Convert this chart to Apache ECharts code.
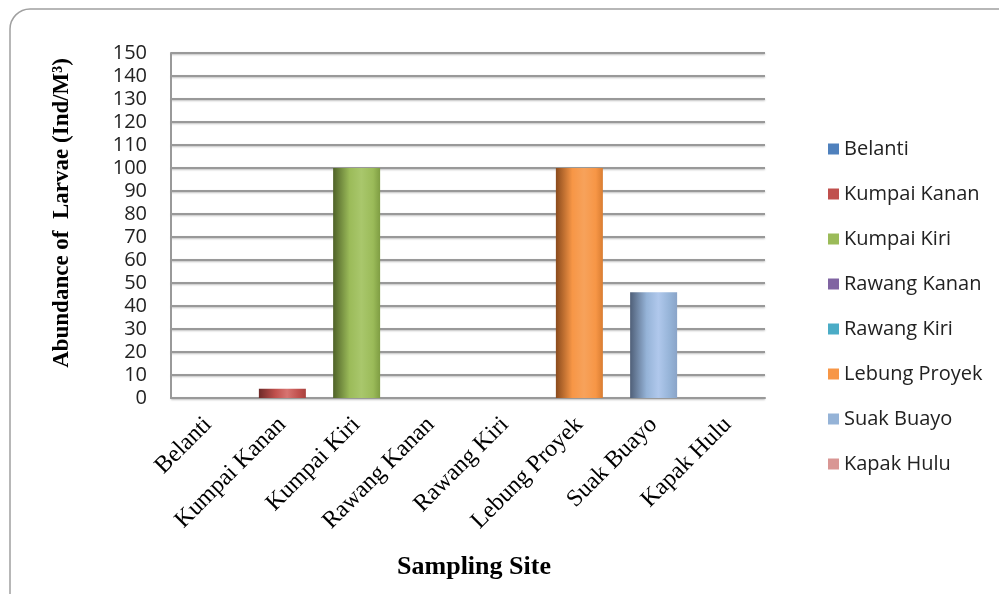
<!DOCTYPE html>
<html>
<head>
<meta charset="utf-8">
<script src="https://cdn.jsdelivr.net/npm/echarts@6/dist/echarts.min.js"></script>
<style>
  html, body { margin: 0; padding: 0; background: #fff; }
  #chart { width: 999px; height: 594px; }
</style>
</head>
<body>
<div id="chart"></div>
<script>
// Larval abundance per sampling site
const sites = ['Belanti', 'Kumpai Kanan', 'Kumpai Kiri', 'Rawang Kanan', 'Rawang Kiri', 'Lebung Proyek', 'Suak Buayo', 'Kapak Hulu'];
const abundance = [0, 4, 100, 0, 0, 100, 46, 0];
const yTicks = [0, 10, 20, 30, 40, 50, 60, 70, 80, 90, 100, 110, 120, 130, 140, 150];
const yTitle = 'Abundance of  Larvae (Ind/M³)';
const xTitle = 'Sampling Site';

// Base colour plus shades for the cylinder-like shading of each bar
const palette = [
  { base: '#4F81BD', dark: '#2c4a6e', light: '#7fa3d3', edge: '#4671a6' },
  { base: '#C0504D', dark: '#6e2b29', light: '#d77471', edge: '#a8433f' },
  { base: '#9BBB59', dark: '#4f6228', light: '#a9c76c', edge: '#7f9d43' },
  { base: '#8064A2', dark: '#47375c', light: '#9c84bb', edge: '#6f5690' },
  { base: '#4BACC6', dark: '#28626f', light: '#73c2d8', edge: '#3f97ad' },
  { base: '#F79646', dark: '#8a4a1c', light: '#f7a25b', edge: '#d97d32' },
  { base: '#95B3D7', dark: '#4f5f78', light: '#b0c8ec', edge: '#8aa4c8' },
  { base: '#D99694', dark: '#7a4f4e', light: '#e6aeac', edge: '#c48280' }
];

function shade(p) {
  return {
    type: 'linear', x: 0, y: 0, x2: 1, y2: 0,
    colorStops: [
      { offset: 0, color: p.dark },
      { offset: 0.35, color: p.base },
      { offset: 0.6, color: p.light },
      { offset: 0.85, color: p.base },
      { offset: 1, color: p.edge }
    ]
  };
}

const series = sites.map((name, i) => ({
  name: name,
  type: 'bar',
  stack: 'sites',
  barWidth: 47,
  itemStyle: { color: shade(palette[i]) },
  data: abundance.map((v, j) => (j === i ? v : '-'))
}));

const chart = echarts.init(document.getElementById('chart'), null, { renderer: 'canvas' });
chart.setOption({
  animation: false,
  backgroundColor: '#fff',
  graphic: [
    {
      type: 'rect',
      shape: { x: 10, y: 9, width: 1010, height: 620, r: 20 },
      style: { fill: 'none', stroke: '#a0a0a0', lineWidth: 1.5 },
      z: -1
    },
    {
      type: 'text',
      x: 62, y: 213,
      rotation: Math.PI / 2,
      style: {
        text: yTitle, align: 'center', verticalAlign: 'middle',
        font: 'bold 23px "Liberation Serif"', fill: '#000'
      }
    },
    {
      type: 'text',
      x: 474, y: 567,
      style: {
        text: xTitle, align: 'center', verticalAlign: 'middle',
        font: 'bold 26px "Liberation Serif"', fill: '#000'
      }
    }
  ],
  grid: { left: 171, right: 234, top: 53, bottom: 196 },
  legend: {
    orient: 'vertical',
    left: 823,
    top: 134,
    itemWidth: 11,
    itemHeight: 11,
    itemGap: 25,
    icon: 'rect',
    textStyle: { fontFamily: 'Open Sans', fontSize: 20, color: '#222' },
    data: sites.map((name, i) => ({ name: name, itemStyle: { color: palette[i].base } }))
  },
  xAxis: {
    type: 'category',
    data: sites,
    axisLine: { show: true, lineStyle: { color: '#999', width: 2 } },
    axisTick: { show: false },
    axisLabel: {
      interval: 0, rotate: 45, margin: 23,
      fontFamily: 'Liberation Serif', fontSize: 24, color: '#000'
    }
  },
  yAxis: {
    type: 'value',
    min: 0, max: 150, interval: 10,
    axisLine: { show: true, lineStyle: { color: '#999', width: 2 } },
    axisTick: { show: false },
    axisLabel: {
      margin: 24,
      fontFamily: 'Open Sans', fontSize: 20, color: '#222',
      formatter: v => (yTicks.indexOf(v) >= 0 ? String(v) : '')
    },
    splitLine: {
      show: true,
      lineStyle: { color: '#999', width: 2, shadowColor: 'rgba(0,0,0,0.25)', shadowBlur: 2, shadowOffsetY: 1 }
    }
  },
  series: series
});
</script>
</body>
</html>
